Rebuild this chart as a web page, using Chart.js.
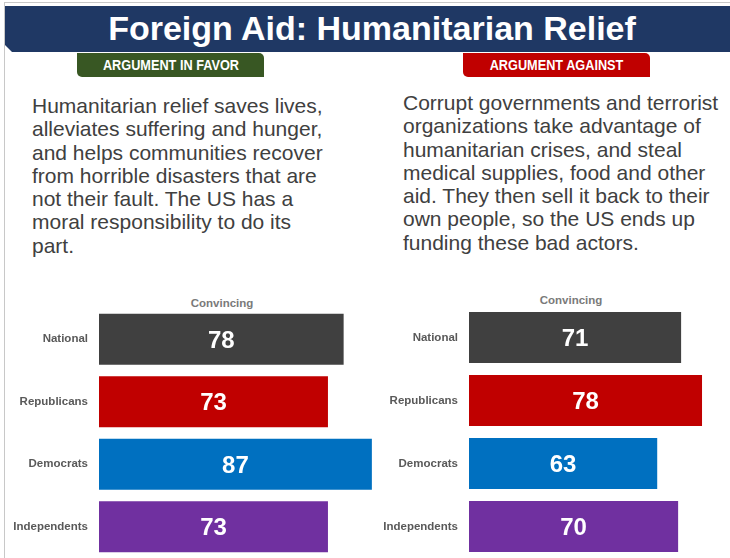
<!DOCTYPE html>
<html>
<head>
<meta charset="utf-8">
<script src="https://cdn.jsdelivr.net/npm/chart.js@4"></script>
<style>
  html, body { margin:0; padding:0; background:#fff; }
  body { width:730px; height:558px; position:relative; overflow:hidden; font-family:"Liberation Sans", Arial, sans-serif; }
  .frame-left { position:absolute; left:4px; top:2px; width:1px; height:556px; background:#c8c8c8; }
  .frame-top { position:absolute; left:4px; top:2px; width:726px; height:1px; background:#c8c8c8; }
  .titlebar { position:absolute; left:5px; top:6px; width:725px; height:46px; background:#1F3864;
              clip-path: polygon(0 0, 100% 0, 100% 100%, 7px 100%, 0 calc(100% - 7px)); }
  .title { position:absolute; left:14px; top:6px; width:716px; height:46px; line-height:44px; text-align:center;
           color:#fff; font-weight:bold; font-size:34px; }
  .tag { position:absolute; top:53px; height:24px; width:187px; color:#fff; font-weight:bold;
         font-size:15.5px; line-height:24px; text-align:center; border-radius:0 5px 0 5px; }
  .tag span { display:inline-block; transform:scaleX(0.82); transform-origin:center; }
  .favor { left:77px; background:#385723; }
  .against { left:463px; background:#C00000; }
  .para { position:absolute; color:#404040; font-size:21px; line-height:23.3px; white-space:nowrap; }
  .p1 { left:32px; top:94px; }
  .p2 { left:403px; top:91px; }
  .conv { position:absolute; color:#7a7a7a; font-weight:bold; font-size:11.5px; width:120px; text-align:center; }
  .c1 { left:162px; top:297px; }
  .c2 { left:511px; top:294px; }
  canvas { position:absolute; }
</style>
</head>
<body>
<div class="frame-top"></div>
<div class="frame-left"></div>
<div class="titlebar"></div>
<div class="title">Foreign Aid: Humanitarian Relief</div>
<div class="tag favor"><span>ARGUMENT IN FAVOR</span></div>
<div class="tag against"><span>ARGUMENT AGAINST</span></div>
<div class="para p1">Humanitarian relief saves lives,<br>alleviates suffering and hunger,<br>and helps communities recover<br>from horrible disasters that are<br>not their fault. The US has a<br>moral responsibility to do its<br>part.</div>
<div class="para p2">Corrupt governments and terrorist<br>organizations take advantage of<br>humanitarian crises, and steal<br>medical supplies, food and other<br>aid. They then sell it back to their<br>own people, so the US ends up<br>funding these bad actors.</div>
<div class="conv c1">Convincing</div>
<div class="conv c2">Convincing</div>
<canvas id="favor" width="375" height="268" style="left:0px; top:290px;"></canvas>
<canvas id="against" width="338" height="268" style="left:370px; top:290px;"></canvas>
<script>
const categories = ['National', 'Republicans', 'Democrats', 'Independents'];
const favorValues = [78, 73, 87, 73];
const againstValues = [71, 78, 63, 70];
const barColors = ['#404040', '#C00000', '#0070C0', '#7030A0'];

const valueLabels = {
  id: 'valueLabels',
  afterDatasetsDraw(chart) {
    const ctx = chart.ctx;
    const meta = chart.getDatasetMeta(0);
    const data = chart.data.datasets[0].data;
    ctx.save();
    ctx.fillStyle = '#ffffff';
    ctx.font = 'bold 24px "Liberation Sans", Arial, sans-serif';
    ctx.textAlign = 'center';
    ctx.textBaseline = 'middle';
    meta.data.forEach((bar, i) => {
      const p = bar.getProps(['x', 'y', 'base'], true);
      ctx.fillText(String(data[i]), (p.x + p.base) / 2, p.y + 2);
    });
    ctx.restore();
  }
};

function makeChart(id, values, xMax, padTop, barPct) {
  return new Chart(document.getElementById(id), {
    type: 'bar',
    data: {
      labels: categories,
      datasets: [{
        data: values,
        backgroundColor: barColors,
        borderWidth: 0,
        barPercentage: barPct,
        categoryPercentage: 1
      }]
    },
    options: {
      indexAxis: 'y',
      responsive: false,
      animation: false,
      devicePixelRatio: 1,
      layout: { padding: { top: padTop, bottom: 0, left: 0, right: 0 } },
      plugins: { legend: { display: false }, tooltip: { enabled: false } },
      scales: {
        x: { display: false, min: 0, max: xMax },
        y: {
          grid: { display: false, drawTicks: false },
          border: { display: false },
          ticks: {
            color: '#595959',
            padding: 11,
            font: { family: '"Liberation Sans", Arial, sans-serif', size: 11.5, weight: 'bold' }
          },
          afterFit(scale) { scale.width = 99; scale.paddingTop = 0; scale.paddingBottom = 0; }
        }
      }
    },
    plugins: [valueLabels]
  });
}

makeChart('favor', favorValues, 88, 18, 0.816);
makeChart('against', againstValues, 80, 16, 0.81);
</script>
</body>
</html>
